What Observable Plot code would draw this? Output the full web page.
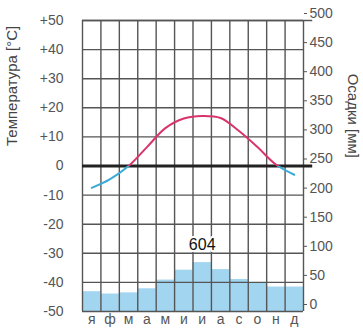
<!DOCTYPE html>
<html>
<head>
<meta charset="utf-8">
<script src="https://cdn.jsdelivr.net/npm/d3@7"></script>
<script src="https://cdn.jsdelivr.net/npm/@observablehq/plot@0.6"></script>
<style>
  html, body { margin: 0; padding: 0; background: #fff; }
</style>
</head>
<body>
<div id="chart"></div>
<script>
// Data
const months = ["я", "ф", "м", "а", "м", "и", "и", "а", "с", "о", "н", "д"];
const temperature = [-7.5, -4.5, 0, 6.5, 13, 16.3, 17.2, 16.5, 12, 6.5, 0.5, -3]; // °C
const precipitation = [34, 30, 32, 39, 54, 71, 84, 72, 55, 49, 42, 42]; // mm
const tempTicks = [-50, -40, -30, -20, -10, 0, 10, 20, 30, 40, 50];
const xTitle = "Температура [°C]";
const rightTitle = "Осадки [мм]";

const mmToT = mm => mm / 5 - 50;

const rows = months.map((m, i) => ({i, m, t: temperature[i], p: precipitation[i]}));
const total = d3.sum(precipitation);

const chart = Plot.plot({
  width: 363,
  height: 329,
  marginLeft: 82,
  marginRight: 60,
  marginTop: 20,
  marginBottom: 18,
  style: {fontFamily: "'Liberation Sans', Arial, sans-serif", fontSize: "14px", background: "#fff"},
  x: {domain: [0, 12]},
  y: {domain: [-50, 50]},
  marks: [
    Plot.rectY(rows, {x1: d => d.i, x2: d => d.i + 1, y1: -50, y2: d => mmToT(d.p), fill: "#a2d5f0", inset: 0}),
    Plot.gridX(d3.range(13), {stroke: "#555", strokeOpacity: 1, strokeWidth: 1.4}),
    Plot.gridY(tempTicks, {stroke: "#555", strokeOpacity: 1, strokeWidth: 1.4}),
    Plot.ruleY([50], {x1: 0, x2: 12.5, stroke: "#555", strokeWidth: 1.4}),
    Plot.ruleY([0], {x1: 0, x2: 12.5, stroke: "#222", strokeWidth: 3}),
    Plot.line(rows, {x: d => d.i + 0.5, y: "t", curve: "catmull-rom", stroke: "url(#tgrad)", strokeWidth: 2}),
    Plot.text([rows[6]], {x: d => d.i + 0.5, y: d => mmToT(d.p), dy: -18, text: () => String(total), fill: "#111", fontSize: 16, stroke: "white", strokeWidth: 4}),
    Plot.axisY(tempTicks, {anchor: "left", tickSize: 0, tickPadding: 19, color: "#555", fontSize: 14, label: null,
      tickFormat: d => d > 0 ? "+" + d : String(d)}),
    Plot.axisY(tempTicks, {anchor: "right", tickSize: 3, tickPadding: 3, dy: -7, color: "#555", fontSize: 14, label: null,
      tickFormat: d => String((d + 50) * 5)}),
    Plot.axisX(d3.range(12).map(i => i + 0.5), {anchor: "bottom", tickSize: 0, tickPadding: 3, color: "#555", fontSize: 14, label: null,
      tickFormat: v => months[Math.floor(v)]}),
    Plot.text([xTitle], {frameAnchor: "left", dx: -70, dy: -20, rotate: -90, fill: "#444", fontSize: 15}),
    Plot.text([rightTitle], {frameAnchor: "right", dx: 49, dy: -8, rotate: 90, fill: "#444", fontSize: 15})
  ]
});

// gradient splitting the temperature curve at 0 °C
const y0 = chart.scale("y").apply(0);
const H = 329;
const ns = "http://www.w3.org/2000/svg";
const defs = document.createElementNS(ns, "defs");
const grad = document.createElementNS(ns, "linearGradient");
grad.setAttribute("id", "tgrad");
grad.setAttribute("gradientUnits", "userSpaceOnUse");
grad.setAttribute("x1", 0); grad.setAttribute("x2", 0);
grad.setAttribute("y1", 0); grad.setAttribute("y2", H);
[["#d8356d", 0], ["#d8356d", y0 / H], ["#3aaad6", y0 / H], ["#3aaad6", 1]].forEach(([c, o]) => {
  const s = document.createElementNS(ns, "stop");
  s.setAttribute("offset", o);
  s.setAttribute("stop-color", c);
  grad.appendChild(s);
});
defs.appendChild(grad);
chart.insertBefore(defs, chart.firstChild);

document.getElementById("chart").appendChild(chart);
</script>
</body>
</html>
